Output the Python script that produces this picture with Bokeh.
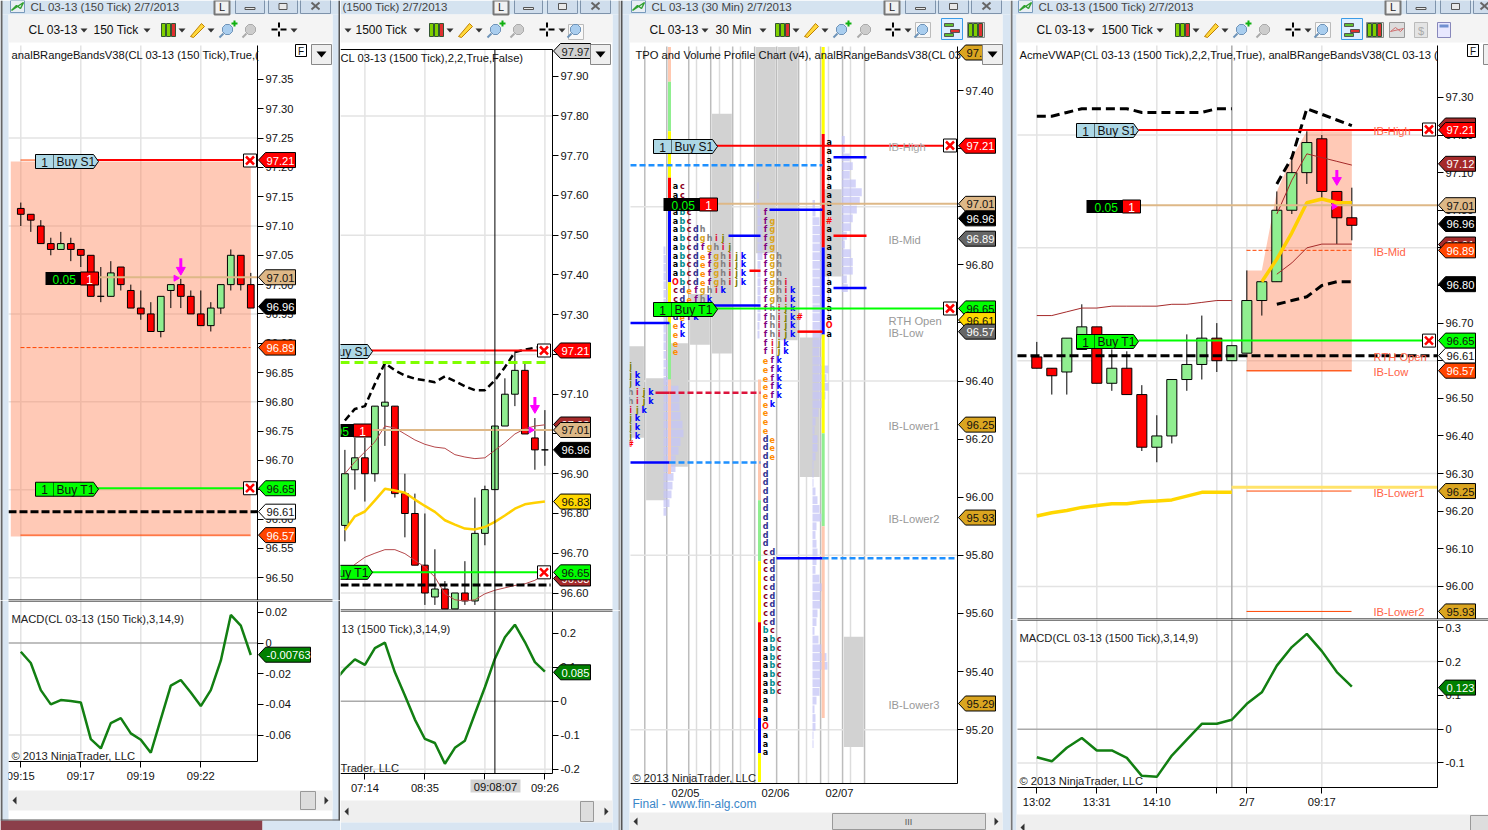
from bokeh.plotting import figure
from bokeh.embed import file_html
from bokeh.resources import INLINE
from bokeh.models import (Range1d, FixedTicker, NumeralTickFormatter, BoxAnnotation, PolyAnnotation,
                          Label, Row, Column)
from bokeh.core.properties import value
import math

# ---------------- DATA ----------------
w1_open = [97.13,97.12,97.10,97.07,97.06,97.07,97.06,97.05,96.98,96.98,97.03,96.99,96.96,96.95,96.92,96.99,97.00,96.98,96.95,96.93,96.96,97.00,97.05,97.00]
w1_high = [97.14,97.12,97.11,97.08,97.09,97.08,97.06,97.05,97.03,97.04,97.03,97.00,96.99,96.97,96.98,97.00,97.01,96.99,96.99,96.97,97.00,97.06,97.05,97.02]
w1_low = [97.10,97.09,97.07,97.05,97.06,97.04,97.03,96.98,96.97,96.98,96.99,96.96,96.94,96.92,96.91,96.96,96.96,96.95,96.93,96.92,96.95,96.99,96.99,96.96]
w1_close = [97.12,97.11,97.07,97.06,97.07,97.06,97.05,96.98,96.98,97.02,97.00,96.96,96.95,96.92,96.98,97.00,96.98,96.95,96.93,96.96,97.00,97.05,97.00,96.96]
w1_macd = [-0.0057,-0.0130,-0.0307,-0.0400,-0.0372,-0.0378,-0.0387,-0.0626,-0.0687,-0.0522,-0.0489,-0.0589,-0.0630,-0.0715,-0.0496,-0.0278,-0.0241,-0.0322,-0.0411,-0.0307,-0.0115,0.0183,0.0113,-0.0078]
w1_ticks = [96.50,96.55,96.60,96.65,96.70,96.75,96.80,96.85,96.90,96.95,97.00,97.05,97.10,97.15,97.20,97.25,97.30,97.35]
w1_macd_ticks = {0.02:"0.02",0:"0",-0.02:"-0.02",-0.04:"-0.04",-0.06:"-0.06"}
w1_time = {0:"09:15",6:"09:17",12:"09:19",18:"09:22"}

w2_open = [96.77,96.91,96.94,96.90,97.07,97.07,96.85,96.80,96.67,96.59,96.61,96.56,96.60,96.58,96.75,96.86,97.02,97.10,97.16,96.99,96.96]
w2_high = [96.96,96.99,96.99,97.07,97.18,97.07,96.90,96.85,96.80,96.71,96.63,96.60,96.68,96.84,96.87,97.02,97.14,97.21,97.18,97.04,97.06]
w2_low = [96.73,96.86,96.83,96.88,96.97,96.84,96.74,96.67,96.57,96.57,96.56,96.56,96.57,96.57,96.72,96.86,97.02,97.07,97.00,96.91,96.92]
w2_close = [96.90,96.94,96.90,97.07,97.08,96.85,96.80,96.67,96.60,96.61,96.56,96.60,96.58,96.75,96.86,97.02,97.10,97.16,97.00,96.96,96.96]
w2_upper = [97.034,97.063,97.07,97.126,97.178,97.16,97.147,97.139,97.135,97.13,97.145,97.133,97.12,97.11,97.11,97.135,97.168,97.206,97.212,97.217,97.22]
w2_vwap = [96.758,96.793,96.805,96.833,96.862,96.858,96.852,96.835,96.819,96.804,96.783,96.772,96.762,96.76,96.766,96.779,96.795,96.812,96.823,96.827,96.83]
w2_brown_hi = [96.90,96.93,96.955,96.98,97.02,97.015,97.0,96.985,96.974,96.967,96.964,96.948,96.942,96.938,96.94,96.959,96.978,97.0,97.013,97.02,97.023]
w2_brown_lo = [96.649,96.672,96.69,96.70,96.709,96.709,96.699,96.682,96.665,96.64,96.598,96.583,96.58,96.583,96.598,96.607,96.613,96.619,96.623,96.632,96.647]
w2_macd_idx = [-1,0,1,2,3,4,5,6,7,8,9,10,11,12,13,14,15,16,17,18,19,20]
w2_macd = [0.06,0.095,0.123,0.107,0.156,0.172,0.085,0.017,-0.054,-0.111,-0.123,-0.184,-0.137,-0.116,-0.037,0.041,0.125,0.188,0.225,0.174,0.115,0.087]
w2_ticks = [96.60,96.70,96.80,96.90,97.10,97.20,97.30,97.40,97.50,97.60,97.70,97.80,97.90,97.00]
w2_macd_ticks = {0.2:"0.2",0.1:"0.1",0:"0",-0.1:"-0.1",-0.2:"-0.2"}
w2_time = {2:"07:14",8:"08:35",14:"",20:"09:26"}

w3_ticks = [95.20,95.40,95.60,95.80,96.00,96.20,96.40,96.60,96.80,97.00,97.20,97.40]
w3_days = {1.85:"02/05",5.95:"02/06",8.86:"02/07"}
w3_box_k = [-1,0,1,2,3,5,6,7,8,9]
w3_box_top = [96.52,96.41,96.53,96.70,97.32,97.55,97.55,96.55,97.06,95.52]
w3_box_bot = [96.205,95.99,96.105,96.525,96.495,96.84,96.54,96.07,96.76,95.14]
tpo_l_p = [96.45,96.42,96.39,96.36,96.33,96.30,96.27,96.24,96.21,96.18]
tpo_l_s = ["j","jk","jk","hijk","hijk","ijk","jk","jk","jk","#"]
tpo_a_p = [97.07,97.04,97.01,96.98,96.95,96.92,96.89,96.86,96.83,96.80,96.77,96.74,96.71,96.68,96.65,96.62,96.59,96.56,96.53,96.50]
tpo_a_s = ["ac","ac","abc","abc","abc","abcdh","abcdghij","abcdfghij","abcdefghijk","abcdefghijk","abcdefghijk","Obcdefghijk","cdefghik","cdefhk","cdefhk","defk","ek","ek","e","e"]
tpo_b_p = [96.98,96.95,96.92,96.89,96.86,96.83,96.80,96.77,96.74,96.71,96.68,96.65,96.62,96.59,96.56,96.53,96.50,96.47,96.44,96.41,96.38,96.35,96.32,96.29,96.26,96.23,96.20,96.17,96.14,96.11,96.08,96.05,96.02,95.99,95.96,95.93,95.90,95.87,95.84,95.81,95.78,95.75,95.72,95.69,95.66,95.63,95.60,95.57,95.54,95.51,95.48,95.45,95.42,95.39,95.36,95.33,95.30,95.27,95.24,95.21,95.18,95.15,95.12]
tpo_b_s = ["f","fg","fg","fg","fg","fgh","fgh","fgh","fghi","fghik","fghik","fhijk","fhijk#","fhijk","fhijk","fijk","fijk","efk","efk","efk","efk","efk","ek","e","e","e","de","de","de","d","d","d","d","d","d","d","d","d","d","cd","cd","cd","cd","cd","cd","cd","cd","cd","bc","abc","abc","abc","abc","abc","abc","abc","a","a","a","O","a","a","a"]
tpo_c_p = [97.22,97.19,97.16,97.13,97.10,97.07,97.04,97.01,96.98,96.95,96.92,96.89,96.86,96.83,96.80,96.77,96.74,96.71,96.68,96.65,96.62,96.59,96.56]
tpo_c_s = ["a","a","a","a","a","a","a","a","a","#","a","a","a","a","a","a","a","a","a","a","a","O","a"]
vol_a_p = [96.85,96.82,96.79,96.76,96.73,96.70,96.67,96.64,96.61,96.58,96.55,96.52,96.49,96.46,96.43,96.40,96.37,96.34,96.31,96.28,96.25,96.22,96.19,96.16,96.13,96.10,96.07,96.04,96.01,95.98,95.95]
vol_a_w = [2,3,3,3,3,4,4,4,3,3,3,3,3,4,4,6,15,16,16,17,19,20,17,15,12,12,10,9,8,6,3]
vol_b_p = [97.07,97.04,97.01,96.98,96.95,96.92,96.89,96.86,96.83,96.80,96.77,96.74,96.71,96.68,96.65,96.62,96.59,96.56]
vol_b_w = [1,1,2,3,4,5,5,5,5,3,3,3,3,3,3,3,2,2]
vol_c_p = [97.01,96.98,96.95,96.92,96.89,96.86,96.83,96.80,96.77,96.74,96.71,96.68,96.65,96.62,96.59,96.56,96.53,96.50,96.47,96.44,96.41,96.38,96.35,96.32,96.29,96.26,96.23,96.20,96.17,96.14,96.11,96.08,96.05,96.02,95.99,95.96,95.93,95.90,95.87,95.84,95.81,95.78,95.75,95.72,95.69,95.66,95.63,95.60,95.57,95.54,95.51,95.48,95.45,95.42,95.39,95.36,95.33,95.30,95.27,95.24,95.21,95.18,95.15]
vol_c_w = [2.5,3,7,10,11,11,10,10,10,10,10,10,10,10,10,10,8,7,9,16,14,16,13,10,6,3,2,5,5,3,1,1,1,3,5,7,9,4,3,4,5,4,3,7,10,8,8,5,4,2,6,9,14,15,8,8,7,4,2,3,3,1,1]
vol_d_p = [97.23,97.20,97.17,97.14,97.11,97.08,97.05,97.02,96.99,96.96,96.93,96.90,96.87,96.84,96.81,96.78,96.75,96.72]
vol_d_w = [3,3,8,11,8,14,20,18,15,11,9,5,3,9,11,11,5,6]
strip_a = [(97.55,97.43,"#FFC8B0"),(97.43,97.26,"#90EE90"),(97.26,97.10,"#FFFF00"),(97.10,97.0,"#FF0000"),(97.0,96.74,"#0000FF"),(96.74,96.60,"#FFFF00"),(96.60,96.405,"#90EE90"),(96.405,96.08,"#FFC8B0")]
strip_b = [(96.405,95.99,"#FFC8B0"),(95.99,95.78,"#90EE90"),(95.78,95.57,"#FFFF00"),(95.57,95.24,"#FF0000"),(95.24,95.12,"#0000FF"),(95.12,95.02,"#FFFF00")]
strip_c = [(97.55,97.25,"#FFFF00"),(97.25,96.86,"#FF0000"),(96.86,96.56,"#0000FF"),(96.56,96.22,"#FFFF00"),(96.22,95.90,"#90EE90"),(95.90,95.24,"#FFC8B0")]

w4_open = [96.61,96.58,96.57,96.63,96.69,96.54,96.58,96.51,96.37,96.40,96.55,96.59,96.66,96.60,96.62,96.76,96.81,97.00,97.10,97.19,97.05,96.98]
w4_high = [96.65,96.58,96.66,96.75,96.69,96.63,96.625,96.535,96.455,96.55,96.67,96.72,96.70,96.64,96.84,96.81,97.05,97.14,97.21,97.20,97.05,97.06]
w4_low = [96.58,96.51,96.51,96.63,96.54,96.52,96.51,96.36,96.33,96.38,96.52,96.55,96.57,96.60,96.62,96.72,96.81,96.99,97.07,97.03,96.91,96.92]
w4_close = [96.58,96.56,96.66,96.69,96.54,96.58,96.51,96.37,96.40,96.55,96.59,96.66,96.60,96.64,96.76,96.81,97.00,97.10,97.18,97.05,96.98,96.96]
w4_upper1 = [97.25,97.25,97.26,97.27,97.27,97.27,97.27,97.26,97.26,97.26,97.26,97.26,97.27,97.27]
w4_brown1 = [96.72,96.72,96.73,96.74,96.74,96.745,96.745,96.745,96.745,96.75,96.75,96.755,96.76,96.76]
w4_vwap1 = [96.187,96.196,96.202,96.21,96.215,96.22,96.22,96.225,96.227,96.23,96.24,96.25,96.25,96.25]
w4_idx2 = [16,17,18,19,20,21]
w4_upper2 = [97.07,97.14,97.27,97.255,97.24,97.225]
w4_brown2_hi = [96.99,97.08,97.15,97.14,97.13,97.12]
w4_brown2_lo = [96.83,96.86,96.90,96.91,96.91,96.91]
w4_lower2 = [96.75,96.76,96.77,96.80,96.81,96.81]
w4_vwap2_idx = [15,16,17,18,19,20,21]
w4_vwap2 = [96.81,96.87,96.94,97.02,97.03,97.02,97.02]
w4_band_idx = [14,15,16,17,18,21]
w4_band_top = [96.84,96.84,97.05,97.14,97.21,97.21]
w4_macd = [-0.083,-0.095,-0.055,-0.026,-0.063,-0.063,-0.085,-0.138,-0.141,-0.078,-0.031,0.016,0.016,0.028,0.075,0.109,0.188,0.243,0.282,0.231,0.169,0.126]
w4_ticks = [96.00,96.10,96.20,96.30,96.40,96.50,96.60,96.70,96.80,96.90,97.00,97.10,97.20,97.30]
w4_macd_ticks = {0.3:"0.3",0.2:"0.2",0.1:"0.1",0:"0",-0.1:"-0.1"}
w4_time = {0:"13:02",4:"13:31",8:"14:10",12:"",14:"2/7",19:"09:17"}

FONT = "Liberation Sans"
BLUE = "#D8E5F2"
GRID = "#E3E3E3"
SMALL = 11.2

# ---------------- helpers ----------------
def panel(ox, oy, w, h, fl, fr, ft, fb, xmin, xmax, ymin, ymax, ticks, xaxis=False, dy=0):
    sx = (xmax-xmin)/(fr-fl)
    sy = (ymax-ymin)/(fb-ft)
    full_x = (xmin+(ox-fl)*sx, xmin+(ox+w-fl)*sx)
    full_y = (ymax-(oy+h-ft)*sy, ymax-(oy-ft)*sy)
    p = figure(width=w, height=h, x_range=Range1d(*full_x), y_range=Range1d(*full_y),
               output_backend="svg", toolbar_location=None, tools="", y_axis_location="right",
               min_border_left=0, min_border_right=0, min_border_top=0, min_border_bottom=0,
               border_fill_color="white", background_fill_color="white", outline_line_color=None)
    a = p.yaxis[0]
    if isinstance(ticks, dict):
        a.ticker = FixedTicker(ticks=list(ticks.keys()))
        a.major_label_overrides = ticks
    else:
        a.ticker = FixedTicker(ticks=ticks)
        a.formatter = NumeralTickFormatter(format="0.00")
    a.fixed_location = xmax
    a.bounds = (ymin, ymax)
    bx = p.xaxis[0]
    bx.fixed_location = ymin
    bx.bounds = (xmin, xmax)
    for ax in (a, bx):
        ax.axis_line_color = "black"
        ax.major_tick_line_color = "black"
        ax.major_tick_out = 6
        ax.major_tick_in = 0
        ax.minor_tick_line_color = None
        ax.major_label_text_font = FONT
        ax.major_label_text_font_size = f"{SMALL}px"
        ax.major_label_text_color = "#111111"
        ax.major_label_standoff = 2
    p.xaxis.visible = xaxis
    p.xgrid.visible = False
    p.ygrid.visible = False
    return dict(p=p, ox=ox, oy=oy, fl=fl, fr=fr, ft=ft, fb=fb, xmin=xmin, xmax=xmax, ymin=ymin, ymax=ymax, dy=dy, sy=sy)

def grid(P, xs, ys, xcol=GRID, ycol=GRID):
    p = P["p"]
    n, m = len(xs), len(ys)
    p.segment(xs, [P["ymin"]]*n, xs, [P["ymax"]]*n, line_color=xcol, line_width=1.5)
    p.segment([P["xmin"]]*m, ys, [P["xmax"]]*m, ys, line_color=ycol, line_width=1.5)

def vrule(P, x, color, w=1):
    P["p"].segment([x], [P["ymin"]], [x], [P["ymax"]], line_color=color, line_width=w)

def xaxis_labels(P, d):
    a = P["p"].xaxis[0]
    a.ticker = FixedTicker(ticks=list(d.keys()))
    a.major_label_overrides = d

def Y(P, v):
    return P["ft"] + (P["ymax"]-v)/(P["ymax"]-P["ymin"])*(P["fb"]-P["ft"]) + P["dy"]

def XD(P, px):
    return P["xmin"] + (px-P["fl"])/(P["fr"]-P["fl"])*(P["xmax"]-P["xmin"])

def rect(P, x0, y0, x1, y1, fill, line=None, lw=1):
    P["p"].add_layout(BoxAnnotation(left=x0-P["ox"], right=x1-P["ox"], top=y0-P["oy"], bottom=y1-P["oy"],
        left_units="canvas", right_units="canvas", top_units="canvas", bottom_units="canvas",
        fill_color=fill, fill_alpha=1, line_color=line, line_width=lw, line_alpha=1))

def poly(P, xs, ys, fill, line=None, lw=1):
    P["p"].add_layout(PolyAnnotation(xs=[x-P["ox"] for x in xs], ys=[y-P["oy"] for y in ys],
        xs_units="canvas", ys_units="canvas", fill_color=fill, fill_alpha=1 if fill else 0,
        line_color=line, line_width=lw, line_alpha=1))

def txt(P, x, y, s, color="black", size=SMALL, bold=False, align="left", font=FONT):
    P["p"].add_layout(Label(x=x-P["ox"], y=y-P["oy"], x_units="canvas", y_units="canvas", text=s,
        text_color=color, text_font_size=f"{size}px", text_font=font, text_align=align,
        text_baseline="middle", text_font_style="bold" if bold else "normal"))

def tag(P, v, s, fill, color, y=None, width=37):
    y = Y(P, v) if y is None else y
    x = P["fr"]+1
    poly(P, [x, x+7, x+width, x+width, x+7], [y, y-7.5, y-7.5, y+7.5, y+7.5], fill, "black", 1)
    txt(P, x+8, y+0.5, s, color, SMALL)

def order(P, x0, x1, y, qty, name, fill):
    poly(P, [x0, x1-5, x1, x1-5, x0], [y-7, y-7, y, y+7, y+7], fill, "black", 1)
    rect(P, x0+18, y-7, x0+18.5, y+7, "black")
    txt(P, x0+9, y+0.5, qty, "#111111", 12, align="center")
    txt(P, x0+21, y+0.5, name, "#111111", 12)

def xbox(P, x, y):
    rect(P, x, y-6.5, x+13, y+6.5, "white", "black", 1)
    poly(P, [x+2.5, x+10.5], [y-4, y+4], None, "#FF0000", 2.5)
    poly(P, [x+2.5, x+10.5], [y+4, y-4], None, "#FF0000", 2.5)

def pnl(P, x0, x1, y, pnl_txt="0.05"):
    rect(P, x0, y-6.5, x1-18, y+6.5, "black")
    rect(P, x1-18, y-6.5, x1, y+6.5, "#FF0000", "black")
    txt(P, x1-46, y+0.5, pnl_txt, "#00FF00", 12)
    txt(P, x1-9, y+0.5, "1", "white", 12, align="center")

def hline(P, v, x0, x1, color, w=1, dash="solid"):
    vv = v - P["dy"]*P["sy"]
    P["p"].line([XD(P, x0), XD(P, x1)], [vv, vv], line_color=color, line_width=w, line_dash=dash)

def candles(P, o, h, l, c, width=0.67):
    p = P["p"]
    idx = list(range(len(o)))
    cols = ["#90EE90" if cc > oo else ("#FF0000" if cc < oo else "black") for oo, cc in zip(o, c)]
    p.segment(idx, h, idx, l, line_color="black", line_width=1)
    p.vbar(x=idx, top=[max(a, b) for a, b in zip(o, c)], bottom=[min(a, b) for a, b in zip(o, c)],
           width=width, fill_color=cols, line_color="black", line_width=1)

def arrow(P, i, top, tip, tri_i, tri_v):
    p = P["p"]
    p.segment([i], [top], [i], [tip], line_color="#FF00FF", line_width=3)
    p.scatter([i], [tip], marker="inverted_triangle", size=9, fill_color="#FF00FF", line_color="#FF00FF")
    p.scatter([tri_i], [tri_v], marker="triangle", angle=-math.pi/2, size=6, fill_color="#FF00FF", line_color="#FF00FF")

def tri_down(P, x, y, color="#333333"):
    poly(P, [x, x+7, x+3.5], [y, y, y+4], color, None)

def candle_icon(P, x, menu=True):
    y0, y1 = 23, 36
    for k, col in enumerate(["#7FD000", "#7FD000", "#E03030"]):
        rect(P, x+k*5, y0, x+k*5+4, y1, col, "#335533")
    if menu:
        tri_down(P, x+17, 28)

def pencil_icon(P, x):
    poly(P, [x, x+11, x+14, x+3], [36, 23, 26, 37], "#FFD83C", "#C08000")
    tri_down(P, x+17, 28)

def glass_icon(P, x, plus=False, gray=False):
    c = "#CCCCCC" if gray else "#A9CDEE"
    e = "#AAAAAA" if gray else "#6E93B8"
    cx, cy = x+8, 29
    poly(P, [cx-5, cx-2, cx+2, cx+5, cx+5, cx+2, cx-2, cx-5], [cy-2, cy-5, cy-5, cy-2, cy+2, cy+5, cy+5, cy+2], c, e)
    poly(P, [x+4, x], [cy+4, cy+8], None, e, 2)
    if plus:
        rect(P, x+12, 22, x+18, 24, "#10B010")
        rect(P, x+14, 20, x+16, 26, "#10B010")

def cross_icon(P, x):
    rect(P, x, 28, x+6, 30, "black")
    rect(P, x+9, 28, x+15, 30, "black")
    rect(P, x+6.5, 22, x+8.5, 27, "black")
    rect(P, x+6.5, 31, x+8.5, 36, "black")
    tri_down(P, x+19, 28)

def buttons(P, L, bx):
    rect(P, L, 0, L+15, 14, "#F2F2F2", "#777777", 2)
    txt(P, L+7.5, 6, "L", "#222222", 11, align="center")
    for i, x in enumerate(bx):
        rect(P, x[0], -2, x[1], 13, "#CFDDEC", "#7E93AB")
        c = (x[0]+x[1])/2
        if i == 0:
            rect(P, c-5, 7, c+5, 9, "#E8E8E8", "#555555")
        elif i == 1:
            rect(P, c-4, 3, c+4, 9, "#E8E8E8", "#555555")
        else:
            poly(P, [c-4, c+4], [2, 9], None, "#666666", 2)
            poly(P, [c-4, c+4], [9, 2], None, "#666666", 2)

def window_top(P, x0, x1, title, tx, L, bx, in0, in1, lab1, x1t, lab2, x2t, t1, t2):
    rect(P, x0, 0, x1, 14, "#D5E3F0")
    if in0 > x0:
        rect(P, x0, 14, in0, 830, BLUE)
    if in1 < x1:
        rect(P, in1, 14, x1, 830, BLUE)
    rect(P, in0, 14, min(in1, x1), 42, "#F4F4F4")
    txt(P, tx, 6, title, "#444444", 11.5)
    if tx > x0+10:
        rect(P, tx-20, 0, tx-6, 12, "#E8EEF4", "#7799BB")
        poly(P, [tx-19, tx-14, tx-10, tx-7], [10, 5, 8, 2], None, "#30A030", 1.5)
    buttons(P, L, bx)
    if lab1:
        txt(P, x1t, 29, lab1, "#111111", 12)
        tri_down(P, t1, 28)
    txt(P, x2t, 29, lab2, "#111111", 12)
    tri_down(P, t2, 28)

def dropdown(P, x0):
    rect(P, x0, 44, x0+20, 64, "#EFEFEF", "#888888")
    poly(P, [x0+5, x0+15, x0+10], [51, 51, 57], "black")

def fbutton(P, x):
    rect(P, x, 44, x+11, 56, "white", "black")
    txt(P, x+5.5, 50.5, "F", "#111111", 10, align="center")

def scroll(P, x0, x1, y0, y1, thumb):
    rect(P, x0, y0, x1, y1, "#EFEFEF")
    poly(P, [x0+8, x0+8, x0+4], [(y0+y1)/2-4, (y0+y1)/2+4, (y0+y1)/2], "#333333")
    poly(P, [x1-8, x1-8, x1-4], [(y0+y1)/2-4, (y0+y1)/2+4, (y0+y1)/2], "#333333")
    rect(P, thumb[0], y0+1, thumb[1], y1-1, "#DDDDDD", "#999999")

# ---------------- WINDOW 1 ----------------
a = panel(0, 0, 340, 600, 8, 257, 45, 600, -1.23, 23.67, 96.461, 97.408, w1_ticks, dy=-1.5)
grid(a, [0, 6, 12, 18], [96.50, 96.65, 96.80, 96.95, 97.10, 97.25])
a["p"].quad(left=[-1], right=[23], top=[97.21], bottom=[96.57], fill_color="#FF7F50", fill_alpha=0.42, line_color=None)
hline(a, 97.21, 20, 40, "#FF4500", 1)
hline(a, 96.89, 20, 250, "#FF4500", 1, "4 2")
hline(a, 96.57, 20, 250, "#FF4500", 1)
candles(a, w1_open, w1_high, w1_low, w1_close)
hline(a, 97.21, 96, 245, "#FF0000", 2)
hline(a, 97.01, 96, 257, "#DEB887", 2)
hline(a, 96.65, 96, 245, "#00FF00", 2)
hline(a, 96.61, 8, 257, "black", 3, "8 3")
arrow(a, 16, 97.045, 97.025, 15.5, 97.011)
window_top(a, 0, 340, "CL 03-13 (150 Tick)  2/7/2013", 30, 214, [(235, 264), (268, 297), (300, 330)], 8, 332, "CL 03-13", 28, "150 Tick", 93, 80, 143)
rect(a, 338, 0, 340, 830, "#555555")
rect(a, 0, 0, 2, 830, "#666666")
candle_icon(a, 161); pencil_icon(a, 190); glass_icon(a, 219, True); glass_icon(a, 242, gray=True); cross_icon(a, 271)
txt(a, 11, 54, "analBRangeBandsV38(CL 03-13 (150 Tick),True,(", "#111111")
fbutton(a, 295); dropdown(a, 311)
order(a, 35, 98, 161, "1", "Buy S1", "#ADD8E6")
order(a, 35, 98, Y(a, 96.65)+1, "1", "Buy T1", "#00FF00")
pnl(a, 45, 98, 278)
xbox(a, 243, 160); xbox(a, 243, Y(a, 96.65))
tag(a, 97.21, "97.21", "#FF0000", "white")
tag(a, 97.01, "97.01", "#DEB887", "#111111")
tag(a, 96.96, "96.96", "black", "white")
tag(a, 96.89, "96.89", "#FF4500", "white")
tag(a, 96.65, "96.65", "#00FF00", "#111111")
tag(a, 96.61, "96.61", "white", "#111111")
tag(a, 96.57, "96.57", "#FF4500", "white")
rect(a, 8, 599, 332, 600, "black")

am = panel(0, 600, 340, 230, 8, 257, 601, 761, -1.23, 23.67, -0.0772, 0.02704, w1_macd_ticks, True)
grid(am, [0, 6, 12, 18], [-0.06])
xaxis_labels(am, w1_time)
am["p"].line([-1.23, 23.67], [0, 0], line_color="#AAAAAA", line_width=1.5)
am["p"].line(list(range(24)), w1_macd, line_color="#127F12", line_width=2.5)
rect(am, 0, 600, 8, 830, BLUE); rect(am, 332, 600, 340, 830, BLUE)
rect(am, 338, 600, 340, 820, "#555555"); rect(am, 0, 600, 2, 820, "#666666")
rect(am, 8, 600, 332, 601, "black")
txt(am, 11, 618, "MACD(CL 03-13 (150 Tick),3,14,9)", "#222222")
txt(am, 11, 755, "\u00a9 2013 NinjaTrader, LLC", "#222222")
tag(am, -0.00763, "-0.00763", "#008000", "white", width=52)
scroll(am, 8, 332, 790, 810, (300, 315))
rect(am, 0, 820, 262, 830, "#8B3F4A"); rect(am, 262, 820, 340, 830, BLUE)
rect(am, 0, 819, 340, 820, "#555555")

# ---------------- WINDOW 2 ----------------
b = panel(340, 0, 280, 610, 340, 552, 49, 610, -0.44, 20.76, 96.556, 97.967, w2_ticks)
grid(b, [2, 8, 14, 20], [96.60, 96.90, 97.20, 97.50, 97.80])
candles(b, w2_open, w2_high, w2_low, w2_close)
idx2 = list(range(21))
b["p"].line(idx2, w2_brown_hi, line_color="#B5474A", line_width=1)
b["p"].line(idx2, w2_brown_lo, line_color="#B5474A", line_width=1)
b["p"].line(idx2, w2_vwap, line_color="#FFD000", line_width=2.5)
b["p"].line(idx2, w2_upper, line_color="black", line_width=2.5, line_dash="7 4")
hline(b, 97.18, 340, 550, "#7FFF00", 3, "9 5")
hline(b, 97.21, 370, 538, "#FF0000", 2)
hline(b, 97.01, 370, 552, "#DEB887", 2)
hline(b, 96.652, 370, 538, "#00FF00", 2)
hline(b, 96.62, 340, 550, "black", 3, "8 3")
arrow(b, 19, 97.093, 97.065, 18.6, 97.01)
vrule(b, 15, "black", 1)
window_top(b, 340, 620, "(1500 Tick)  2/7/2013", 342, 493, [(514, 542), (547, 577), (580, 610)], 340, 612, "", 340, "1500 Tick", 355, 344, 413)
rect(b, 618, 0, 620, 830, "#AAAAAA")
tri_down(b, 344, 28)
candle_icon(b, 429); pencil_icon(b, 458); glass_icon(b, 487, True); glass_icon(b, 510, gray=True); cross_icon(b, 539)
rect(b, 568, 24, 583, 39, "#F8F8F8", "#BBBBBB"); glass_icon(b, 567)
rect(b, 340, 48.5, 552, 49.5, "black")
txt(b, 340, 57, "CL 03-13 (1500 Tick),2,2,True,False)", "#111111")
order(b, 309, 372, 351, "1", "Buy S1", "#ADD8E6")
order(b, 309, 372, Y(b, 96.652), "1", "Buy T1", "#00FF00")
pnl(b, 318, 371, 430)
xbox(b, 537, 350); xbox(b, 537, Y(b, 96.652))
tag(b, 97.97, "97.97", "#D3D3D3", "#222222", y=50.5)
tag(b, 97.03, "97.03", "#A52A2A", "white", y=424)
tag(b, 96.63, "96.63", "#A52A2A", "white", y=578)
tag(b, 97.21, "97.21", "#FF0000", "white")
tag(b, 97.01, "97.01", "#DEB887", "#111111")
tag(b, 96.96, "96.96", "black", "white")
tag(b, 96.83, "96.83", "#FFD700", "#111111")
tag(b, 96.652, "96.65", "#00FF00", "#111111")
dropdown(b, 590)
rect(b, 340, 609, 612, 610, "black")

bm = panel(340, 610, 280, 220, 340, 552, 611, 773, -0.44, 20.76, -0.2126, 0.2638, w2_macd_ticks, True)
grid(bm, [2, 8, 14, 20], [-0.2, 0.1])
xaxis_labels(bm, w2_time)
bm["p"].line([-0.44, 20.76], [0, 0], line_color="#AAAAAA", line_width=1.5)
bm["p"].line(w2_macd_idx, w2_macd, line_color="#127F12", line_width=2.5)
vrule(bm, 15, "black", 1)
rect(bm, 612, 610, 620, 830, BLUE); rect(bm, 618, 610, 620, 830, "#AAAAAA")
rect(bm, 340, 610, 612, 611, "black")
txt(bm, 341, 628, "13 (1500 Tick),3,14,9)", "#222222")
txt(bm, 340, 767, "Trader, LLC", "#222222")
tag(bm, 0.085, "0.085", "#008000", "white")
rect(bm, 470, 779, 520, 792, "#D3D3D3")
txt(bm, 495, 786, "09:08:07", "#111111", align="center")
scroll(bm, 340, 612, 800, 822, (580, 593))
rect(bm, 340, 822, 612, 830, BLUE)

# ---------------- WINDOW 3 ----------------
c = panel(620, 0, 390, 830, 630, 957, 46, 783, -0.65, 14.23, 95.0146, 97.5516, w3_ticks, True)
grid(c, [-1, 0, 1, 2, 3, 4, 5, 6, 7, 8, 9, 10], [95.2, 95.8, 96.4, 97.0], xcol="#BDBDBD")
xaxis_labels(c, w3_days)
c["p"].xaxis[0].major_tick_out = 0
c["p"].xaxis[0].major_label_standoff = 3
for px in [696, 719, 740, 806, 828, 850]:
    vrule(c, XD(c, px), "#DDDDDD", 1.5)
c["p"].quad(left=[k+0.06 for k in w3_box_k], right=[k+0.96 for k in w3_box_k], top=w3_box_top, bottom=w3_box_bot,
            fill_color="#D2D2D2", line_color=None)
def vol(P, x0, ps, ws):
    xs = XD(P, x0)
    P["p"].hbar(y=ps, left=[xs]*len(ps), right=[xs+w/22 for w in ws], height=0.027, fill_color="#C4C4F6", fill_alpha=0.75, line_color=None)
vol(c, 663, vol_a_p, vol_a_w); vol(c, 757, vol_b_p, vol_b_w); vol(c, 812, vol_c_p, vol_c_w); vol(c, 841.3, vol_d_p, vol_d_w)
def strip(P, px, segs):
    x = XD(P, px)
    for t, bt, col in segs:
        P["p"].segment([x], [t], [x], [bt], line_color=col, line_width=3)
strip(c, 669, strip_a); strip(c, 759, strip_b); strip(c, 822.7, strip_c)
LETTER = dict(a="black", b="#008B8B", c="#8B0020", d="#303090", e="#FF8C00", f="#800080", g="#DAA520",
              h="#808080", i="#DC143C", j="#808000", k="#0000FF", O="#FF0000")
LETTER["#"] = "#FF0000"
def tpo(P, x0, ps, ss):
    xx, yy, tt, cc = [], [], [], []
    for v, s in zip(ps, ss):
        for n, ch in enumerate(s):
            xx.append(XD(P, x0+n*6.8)); yy.append(v); tt.append(ch); cc.append(LETTER[ch])
    P["p"].text(xx, yy, text=tt, text_color=cc, text_font=value("DejaVu Sans"), text_font_style="bold",
                text_font_size="8px", text_align="center", text_baseline="middle")
tpo(c, 630, tpo_l_p, tpo_l_s); tpo(c, 675, tpo_a_p, tpo_a_s); tpo(c, 765, tpo_b_p, tpo_b_s); tpo(c, 828.7, tpo_c_p, tpo_c_s)
for v, x0, x1, col, dsh in [(97.143, 630, 822, "#1E90FF", "6 3"), (97.17, 833, 866, "#0000FF", "solid"), (96.90, 833, 866, "#FF0000", "solid"),
                          (96.72, 833, 866, "#0000FF", "solid"), (96.99, 769, 822, "#0000FF", "solid"), (96.90, 728, 760, "#0000FF", "solid"),
                          (96.78, 749, 760, "#FF0000", "solid"), (96.66, 713, 760, "#0000FF", "solid"), (96.60, 630, 669, "#0000FF", "solid"),
                          (96.57, 797, 822, "#FF0000", "solid"), (96.36, 655, 669, "#DC143C", "solid"), (96.36, 669, 760, "#DC143C", "6 3"),
                          (96.12, 630, 669, "#0000FF", "solid"), (96.12, 669, 760, "#1E90FF", "6 3"), (95.79, 776, 822, "#0000FF", "solid"),
                          (95.79, 822, 957, "#1E90FF", "6 3")]:
    hline(c, v, x0, x1, col, 2.5, dsh)
hline(c, 97.21, 715, 945, "#FF0000", 2)
hline(c, 97.01, 715, 957, "#DEB887", 2)
hline(c, 96.65, 715, 945, "#00FF00", 2)
window_top(c, 620, 1010, "CL 03-13 (30 Min)  2/7/2013", 651, 884, [(905, 935), (938, 968), (971, 1001)], 629, 1002, "CL 03-13", 649, "30 Min", 715, 701, 759)
rect(c, 620, 0, 622, 830, "#555555")
candle_icon(c, 775); pencil_icon(c, 804); glass_icon(c, 833, True); glass_icon(c, 857, gray=True); cross_icon(c, 885)
rect(c, 915, 22, 930, 37, "#F8F8F8", "#BBBBBB"); glass_icon(c, 914)
rect(c, 941, 18, 962, 39, "#DDEEFF", "#3C9BE6")
for xx_, yy_, col in [(944, 23, "#60C030"), (950, 29, "#E03030"), (944, 33, "#60C030")]:
    rect(c, xx_, yy_, xx_+9, yy_+3, col, "#555555")
rect(c, 967, 22, 984, 37, "#DDDDDD", "#888888"); candle_icon(c, 968, False)
txt(c, 888, 146, "IB-High", "#A8A8A8")
txt(c, 635, 54, "TPO and Volume Profile Chart (v4), analBRangeBandsV38(CL 03", "#111111")
for s, yy_ in [("IB-Mid", 239), ("RTH Open", 320), ("IB-Low", 332), ("IB-Lower1", 425), ("IB-Lower2", 518), ("IB-Lower3", 704)]:
    txt(c, 888, yy_, s, "#999999")
order(c, 653, 717, 146, "1", "Buy S1", "#ADD8E6")
order(c, 653, 717, 309, "1", "Buy T1", "#00FF00")
pnl(c, 663, 717, 204)
xbox(c, 943, 145); xbox(c, 943, 308)
tag(c, 97.48, "97.", "#DAA520", "#111111", y=52)
for v, s, f_, t_ in [(97.21, "97.21", "#FF0000", "white"), (97.01, "97.01", "#DEB887", "#111111"), (96.96, "96.96", "black", "white"),
                     (96.89, "96.89", "#666666", "white"), (96.65, "96.65", "#00FF00", "#111111"), (96.61, "96.61", "#FFD700", "#111111"),
                     (96.57, "96.57", "#666666", "white"), (96.25, "96.25", "#DAA520", "#111111"), (95.93, "95.93", "#DAA520", "#111111"),
                     (95.29, "95.29", "#DAA520", "#111111")]:
    tag(c, v, s, f_, t_)
dropdown(c, 982)
txt(c, 632, 777, "\u00a9 2013 NinjaTrader, LLC", "#222222")
txt(c, 632, 803, "Final - www.fin-alg.com", "#3A86C8", 12)
scroll(c, 629, 1002, 812, 830, (832, 985))
txt(c, 908, 821, "III", "#555555", 9, align="center")

# ---------------- WINDOW 4 ----------------
d = panel(1010, 0, 478, 619, 1017, 1437, 45, 619, -1.287, 26.71, 95.912, 97.438, w4_ticks, dy=-1.3)
w4_grid_x = [0, 4, 8, 12, 14, 19]
grid(d, w4_grid_x, [96.00, 96.30, 96.60, 96.90, 97.20])
d["p"].varea(w4_band_idx, y1=[96.57]*len(w4_band_idx), y2=w4_band_top, fill_color="#FF7F50", fill_alpha=0.42)
vrule(d, 13, "#AAAAAA", 1.5)
hline(d, 96.89, 1246, 1351, "#FF4500", 1, "4 2")
hline(d, 96.57, 1246, 1351, "#FF4500", 1)
hline(d, 96.26, 1231, 1437, "#FFE36A", 3)
hline(d, 96.25, 1246, 1351, "#FF4500", 1)
hline(d, 95.93, 1246, 1351, "#FF4500", 1)
candles(d, w4_open, w4_high, w4_low, w4_close)
idx13 = list(range(14))
d["p"].line(idx13, w4_brown1, line_color="#A52A2A", line_width=1)
d["p"].line(idx13, w4_upper1, line_color="black", line_width=3, line_dash="9 5")
d["p"].line(idx13, w4_vwap1, line_color="#FFD700", line_width=3.5)
d["p"].line(w4_idx2, w4_brown2_hi, line_color="#A52A2A", line_width=1)
d["p"].line(w4_idx2, w4_brown2_lo, line_color="#A52A2A", line_width=1)
d["p"].line(w4_idx2, w4_upper2, line_color="black", line_width=3, line_dash="9 5")
d["p"].line(w4_idx2, w4_lower2, line_color="black", line_width=3, line_dash="9 5")
d["p"].line(w4_vwap2_idx, w4_vwap2, line_color="#FFD000", line_width=3.5)
hline(d, 97.21, 1138, 1424, "#FF0000", 2)
hline(d, 97.01, 1138, 1437, "#DEB887", 2)
hline(d, 96.65, 1138, 1424, "#00FF00", 2)
hline(d, 96.61, 1017, 1437, "black", 3, "9 4")
arrow(d, 20, 97.107, 97.08, 19.8, 97.01)
window_top(d, 1010, 1488, "CL 03-13 (1500 Tick)  2/7/2013", 1038, 1385, [(1406, 1435), (1440, 1470), (1473, 1495)], 1016, 1500, "CL 03-13", 1036, "1500 Tick", 1101, 1087, 1156)
rect(d, 1010, 0, 1012, 830, "#777777")
candle_icon(d, 1175); pencil_icon(d, 1204); glass_icon(d, 1233, True); glass_icon(d, 1256, gray=True); cross_icon(d, 1285)
rect(d, 1315, 22, 1330, 37, "#F8F8F8", "#BBBBBB"); glass_icon(d, 1314)
rect(d, 1341, 18, 1362, 39, "#DDEEFF", "#3C9BE6")
for xx_, yy_, col in [(1344, 23, "#60C030"), (1350, 29, "#E03030"), (1344, 33, "#60C030")]:
    rect(d, xx_, yy_, xx_+9, yy_+3, col, "#555555")
rect(d, 1366, 22, 1383, 37, "#DDDDDD", "#888888"); candle_icon(d, 1367, False)
rect(d, 1389, 22, 1404, 37, "#DDDDDD", "#999999")
poly(d, [1390, 1395, 1400, 1403], [31, 27, 31, 28], None, "#D07070", 1)
rect(d, 1414, 22, 1427, 37, "#E4E4E4", "#BBBBBB")
txt(d, 1420.5, 30, "$", "#AAAAAA", 11, align="center")
rect(d, 1437, 22, 1450, 37, "#E8E8FF", "#8888BB")
rect(d, 1439, 24, 1448, 27, "#7090D0")
txt(d, 1019, 54, "AcmeVWAP(CL 03-13 (1500 Tick),2,2,True,True), analBRangeBandsV38(CL 03-13 (", "#111111")
fbutton(d, 1467); rect(d, 1483, 44, 1500, 64, "#EFEFEF", "#888888")
for s, yy_ in [("IB-High", 130), ("IB-Mid", 251), ("RTH Open", 356), ("IB-Low", 371), ("IB-Lower1", 492), ("IB-Lower2", 611.5)]:
    txt(d, 1373, yy_, s, "#FF6347", 11.2)
order(d, 1076, 1138, 130, "1", "Buy S1", "#ADD8E6")
order(d, 1076, 1138, 341, "1", "Buy T1", "#00FF00")
pnl(d, 1086, 1140, 206)
xbox(d, 1422, 129); xbox(d, 1422, Y(d, 96.65))
tag(d, 97.23, "97.23", "#A52A2A", "white", y=125)
tag(d, 96.91, "96.91", "#A52A2A", "white", y=244)
for v, s, f_, t_ in [(97.21, "97.21", "#FF0000", "white"), (97.12, "97.12", "#A52A2A", "white"), (97.01, "97.01", "#DEB887", "#111111"),
                     (96.96, "96.96", "black", "white"), (96.89, "96.89", "#FF4500", "white"), (96.80, "96.80", "black", "white"),
                     (96.65, "96.65", "#00FF00", "#111111"), (96.61, "96.61", "white", "#111111"), (96.57, "96.57", "#FF4500", "white"),
                     (96.25, "96.25", "#DAA520", "#111111"), (95.93, "95.93", "#DAA520", "#111111")]:
    tag(d, v, s, f_, t_)
rect(d, 1017, 618, 1488, 619, "black")

dm = panel(1010, 619, 478, 211, 1017, 1437, 620, 787, -1.287, 26.71, -0.1725, 0.3216, w4_macd_ticks, True)
grid(dm, w4_grid_x, [-0.1, 0.2])
xaxis_labels(dm, w4_time)
dm["p"].line([-1.287, 26.71], [0, 0], line_color="#AAAAAA", line_width=1.5)
vrule(dm, 13, "#AAAAAA", 1.5)
dm["p"].line(list(range(22)), w4_macd, line_color="#127F12", line_width=2.5)
rect(dm, 1010, 619, 1016, 830, BLUE); rect(dm, 1010, 619, 1012, 830, "#777777")
rect(dm, 1017, 619, 1488, 620, "black")
txt(dm, 1019, 637, "MACD(CL 03-13 (1500 Tick),3,14,9)", "#222222")
txt(dm, 1019, 780, "\u00a9 2013 NinjaTrader, LLC", "#222222")
tag(dm, 0.123, "0.123", "#008000", "white")
scroll(dm, 1016, 1500, 814, 840, (1470, 1500))

# ---------------- LAYOUT ----------------
col1 = Column(children=[a["p"], am["p"]], spacing=0)
col2 = Column(children=[b["p"], bm["p"]], spacing=0)
col4 = Column(children=[d["p"], dm["p"]], spacing=0)
root = Row(children=[col1, col2, c["p"], col4], spacing=0, margin=(0, 0, 0, 0))
open("out.html", "w").write(file_html(root, INLINE))
